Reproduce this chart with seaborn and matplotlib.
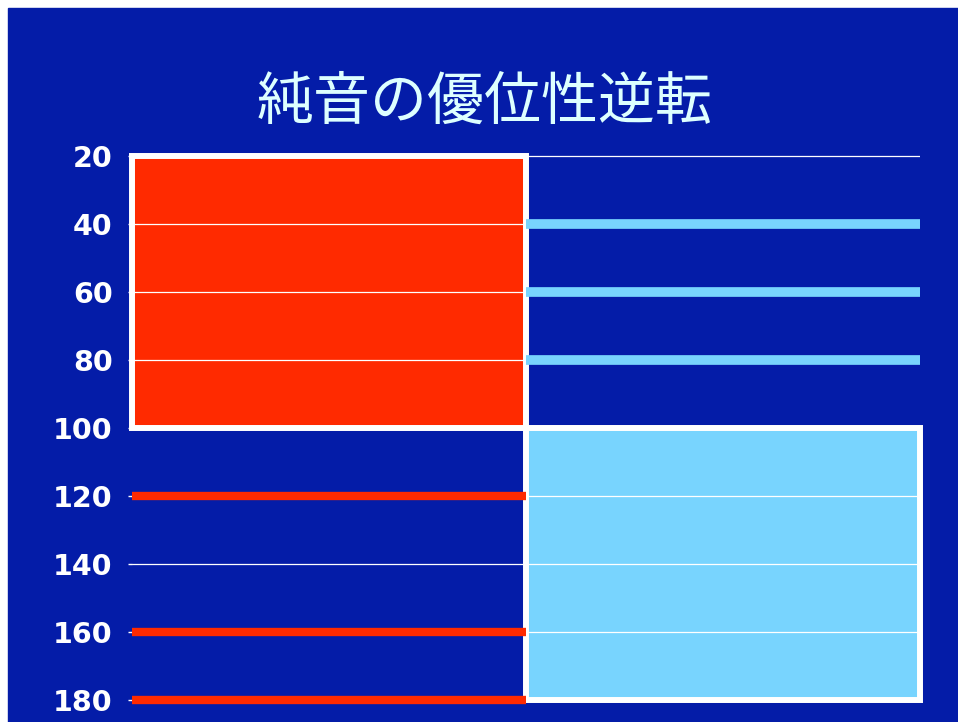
import numpy as np
import pandas as pd
import matplotlib.pyplot as plt
from matplotlib.patches import Rectangle
import seaborn as sns

# data
groups = ["純音", "複合音"]
bar_top = [20, 100]
bar_bottom = [100, 180]
red_levels = [120, 160, 180]
blue_levels = [40, 60, 80]
y_ticks = [20, 40, 60, 80, 100, 120, 140, 160, 180]
title = "純音の優位性逆転"

BG = "#041CA8"
RED = "#FF2A00"
LIGHT = "#78D4FE"

sns.set_style("white")
plt.rcParams["font.family"] = ["DejaVu Sans", "Noto Sans CJK JP"]

df = pd.DataFrame({"group": groups,
                   "span": np.subtract(bar_bottom, bar_top)})

fig = plt.figure(figsize=(9.58, 7.22), dpi=100, facecolor="white")
fig.patches.append(Rectangle((8 / 958, 0), 1, 1 - 8 / 722,
                             transform=fig.transFigure, color=BG, zorder=-1))
ax = fig.add_axes([132 / 958, 1 - 705 / 722, 788 / 958, (705 - 154.3) / 722])
ax.set_facecolor(BG)

sns.barplot(data=df, x="group", y="span", bottom=bar_top, width=1.0,
            errorbar=None, color=RED, saturation=1, edgecolor="white",
            linewidth=4.3, ax=ax)
for p, c in zip(ax.patches, [RED, LIGHT]):
    p.set_facecolor(c)
    p.set_clip_on(False)

# thick level lines
ax.hlines(red_levels, -0.5, 0.5, color=RED, linewidth=6, zorder=3)
ax.hlines(blue_levels, 0.5, 1.5, color=LIGHT, linewidth=7, zorder=3)

ax.set_xlim(-0.5, 1.5)
ax.set_ylim(181.5, 19.5)
ax.set_yticks(y_ticks)
ax.set_xticks([])
ax.set_xlabel("")
ax.set_ylabel("")
ax.yaxis.grid(True, color="white", linewidth=0.9)
ax.set_axisbelow(False)
for s in ax.spines.values():
    s.set_visible(False)
ax.tick_params(axis="y", left=True, length=3, width=1, color="white",
               labelcolor="white", labelsize=20.5, pad=11)
for lab in ax.get_yticklabels():
    lab.set_fontweight("bold")

fig.text(485 / 958, 1 - 103 / 722, title, ha="center", va="center",
         fontsize=41, color="#DDFFFF", family=["Noto Sans CJK JP", "DejaVu Sans"])

fig.savefig("out.png", dpi=100)
